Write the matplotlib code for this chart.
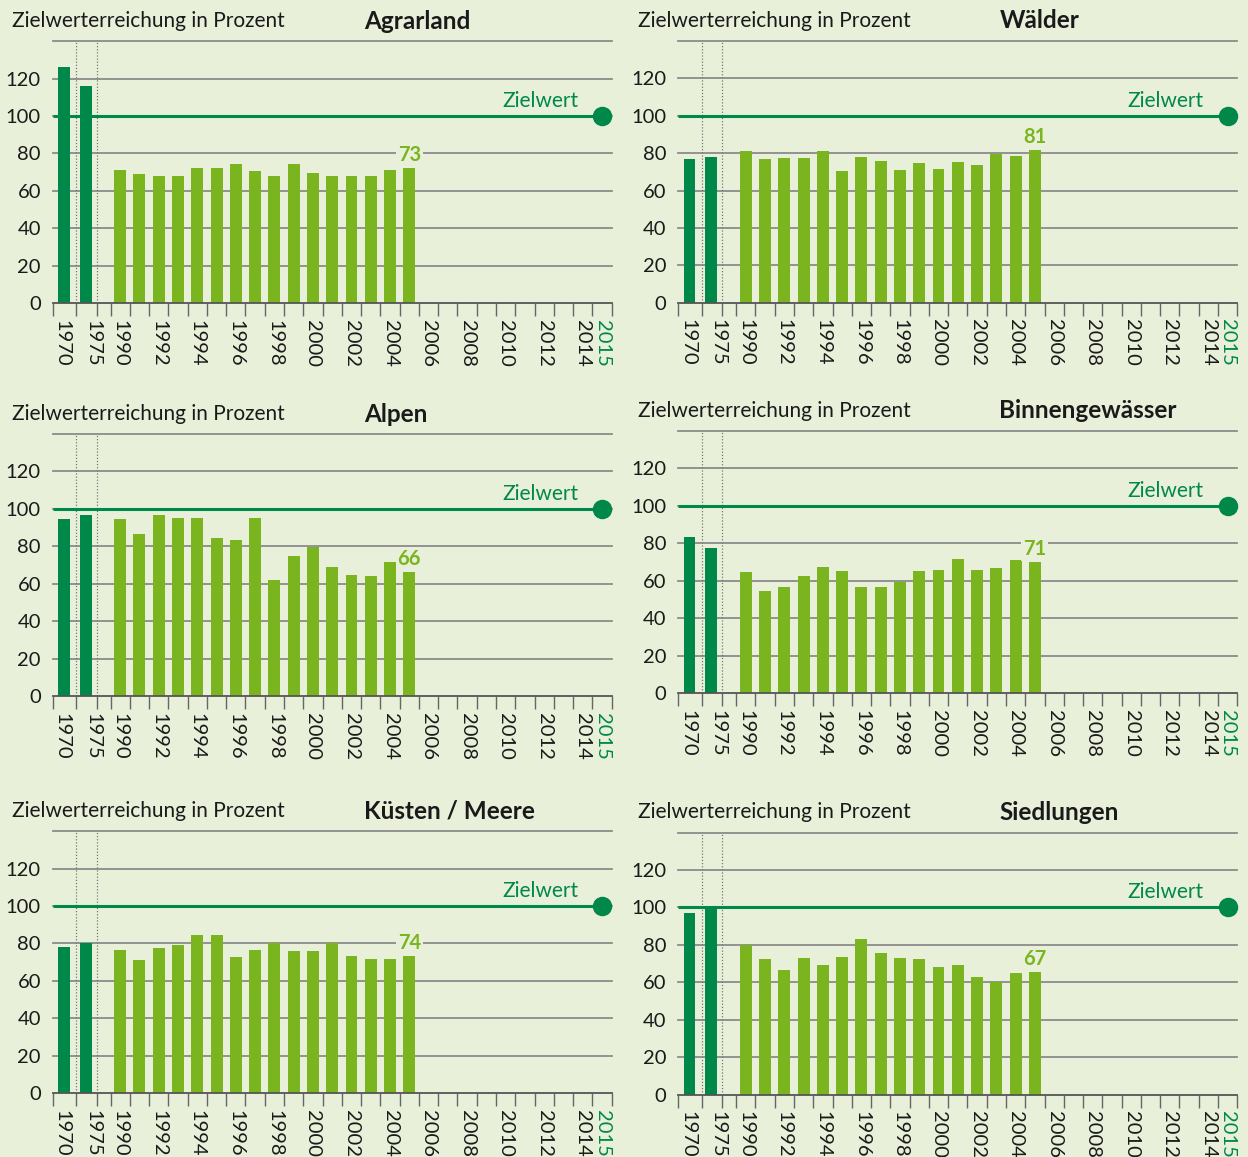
import numpy as np
import matplotlib.pyplot as plt

plt.rcParams['font.family'] = ['Lato', 'DejaVu Sans']

# data
titles = ['Agrarland', 'Wälder', 'Alpen', 'Binnengewässer', 'Küsten / Meere', 'Siedlungen']
early_years = ['1970', '1975']
years = list(range(1990, 2016))

agrar_early = [126, 116]
agrar = [71.4, 69.3, 68.2, 68.2, 72.5, 72.5, 74.6, 70.4, 68.2, 74.6, 69.8, 68.2, 68.2, 68.2, 71.4, 72.5]
wald_early = [76.8, 77.9]
wald = [81.1, 76.8, 77.3, 77.3, 81.1, 70.4, 77.9, 75.7, 70.9, 74.6, 71.4, 75.2, 73.6, 79.5, 78.4, 81.8]
alpen_early = [94.5, 96.6]
alpen = [94.5, 86.4, 96.6, 95, 95, 84.3, 83.2, 95, 61.8, 74.6, 79.5, 68.8, 64.5, 63.9, 71.4, 66.1]
binnen_early = [83.2, 77.3]
binnen = [64.5, 54.3, 56.4, 62.3, 67.1, 65, 56.4, 56.4, 59.1, 65, 65.5, 71.4, 65.5, 66.6, 70.9, 69.8]
kueste_early = [78, 80.2]
kueste = [76.4, 71.1, 77.5, 79.1, 84.5, 84.5, 72.7, 76.4, 80, 75.9, 75.9, 80, 73.2, 71.6, 71.6, 73.2]
siedl_early = [96.8, 98.9]
siedl = [80, 72.5, 66.6, 73, 69.3, 73.6, 83.2, 75.7, 73, 72.5, 68.2, 69.3, 62.9, 60, 65, 65.7]

last_labels = [73, 81, 66, 71, 74, 67]
target = 100

panels = [(agrar_early, agrar), (wald_early, wald), (alpen_early, alpen),
          (binnen_early, binnen), (kueste_early, kueste), (siedl_early, siedl)]

bg = '#e8f0da'
dark_green = '#00874a'
light_green = '#7ab51f'
grid_col = '#8c8c8c'
txt = '#1a1a1a'

W, H = 1248, 1157
fig = plt.figure(figsize=(W / 100, H / 100), dpi=100, facecolor=bg)

# axes placement in pixels (left, zero line y)
col_left = [52.7, 678.3]
zero_y = [[303.2, 302.8], [696.0, 693.0], [1093.2, 1094.5]]
ax_w, ax_h = 559, 262
title_dx = [311.6, 321.0]

early_x = [0.58, 1.72]
year_x = [3.5 + (y - 1990) for y in years]
edge_ticks = [0, 1.21, 2.28] + list(range(3, 30))
lab_pos = [0.47, 2.06] + [3.5 + (y - 1990) for y in years if y % 2 == 0 and y < 2015] + [28.5]
lab_txt = early_years + [str(y) for y in years if y % 2 == 0 and y < 2015] + ['2015']

for i, (early, vals) in enumerate(panels):
    r, c = divmod(i, 2)
    left = col_left[c] / W
    bottom = 1 - zero_y[r][c] / H
    ax = fig.add_axes([left, bottom, ax_w / W, ax_h / H])
    ax.set_facecolor(bg)
    ax.set_xlim(0, 29)
    ax.set_ylim(0, 140)

    for g in [20, 40, 60, 80, 100, 120, 140]:
        ax.axhline(g, color=grid_col, lw=1.3, zorder=1, clip_on=False)
    for d in [1.21, 2.28]:
        ax.axvline(d, color='#777777', lw=0.9, ls=(0, (1, 1.5)), zorder=1)

    ax.bar(early_x, early, width=0.62, color=dark_green, zorder=3)
    ax.bar(year_x[:len(vals)], vals, width=0.62, color=light_green, zorder=3)

    # target line with dot
    ax.plot([0, year_x[-1]], [target, target], color=dark_green, lw=2.2, zorder=4,
            solid_capstyle='butt', clip_on=False)
    ax.plot(year_x[-1], target, 'o', color=dark_green, ms=13, zorder=5, clip_on=False)
    ax.annotate('Zielwert', (year_x[-1], target), xytext=(-24, 5), textcoords='offset pixels',
                ha='right', va='bottom', fontsize=15, color=dark_green, zorder=6)

    # label on last bar
    ax.annotate(str(last_labels[i]), (year_x[len(vals) - 1], vals[-1]), xytext=(0, 13),
                textcoords='offset pixels', ha='center', va='center', fontsize=14.5,
                fontweight='bold', color=light_green, zorder=6,
                bbox=dict(boxstyle='square,pad=0.1', fc=bg, ec='none'))

    ax.annotate('Zielwerterreichung in Prozent', (0, 1), xycoords='axes fraction',
                xytext=(-40.7, 20), textcoords='offset pixels', ha='left', va='center',
                fontsize=15, color=txt)
    ax.annotate(titles[i], (0, 1), xycoords='axes fraction',
                xytext=(title_dx[c], 20), textcoords='offset pixels', ha='left', va='center',
                fontsize=17.5, fontweight='bold', color=txt)

    for s in ['top', 'right', 'left']:
        ax.spines[s].set_visible(False)
    ax.spines['bottom'].set_color('#555555')
    ax.spines['bottom'].set_linewidth(1.3)
    ax.spines['bottom'].set_zorder(4)

    ax.set_yticks([0, 20, 40, 60, 80, 100, 120])
    ax.set_yticklabels(['0', '20', '40', '60', '80', '100', '120'], fontsize=14.5, color=txt)
    ax.tick_params(axis='y', length=0, pad=8.5)

    ax.set_xticks(edge_ticks)
    ax.set_xticklabels([])
    ax.tick_params(axis='x', which='major', length=9.5, width=1, color='#666666', direction='out')
    ax.set_xticks(lab_pos, minor=True)
    ax.set_xticklabels(lab_txt, minor=True, rotation=270, ha='center', va='top',
                       fontsize=14.5, color=txt)
    ax.tick_params(axis='x', which='minor', length=0, pad=12)
    ax.get_xticklabels(minor=True)[-1].set_color(dark_green)

fig.savefig('out.png', dpi=100, facecolor=bg)
